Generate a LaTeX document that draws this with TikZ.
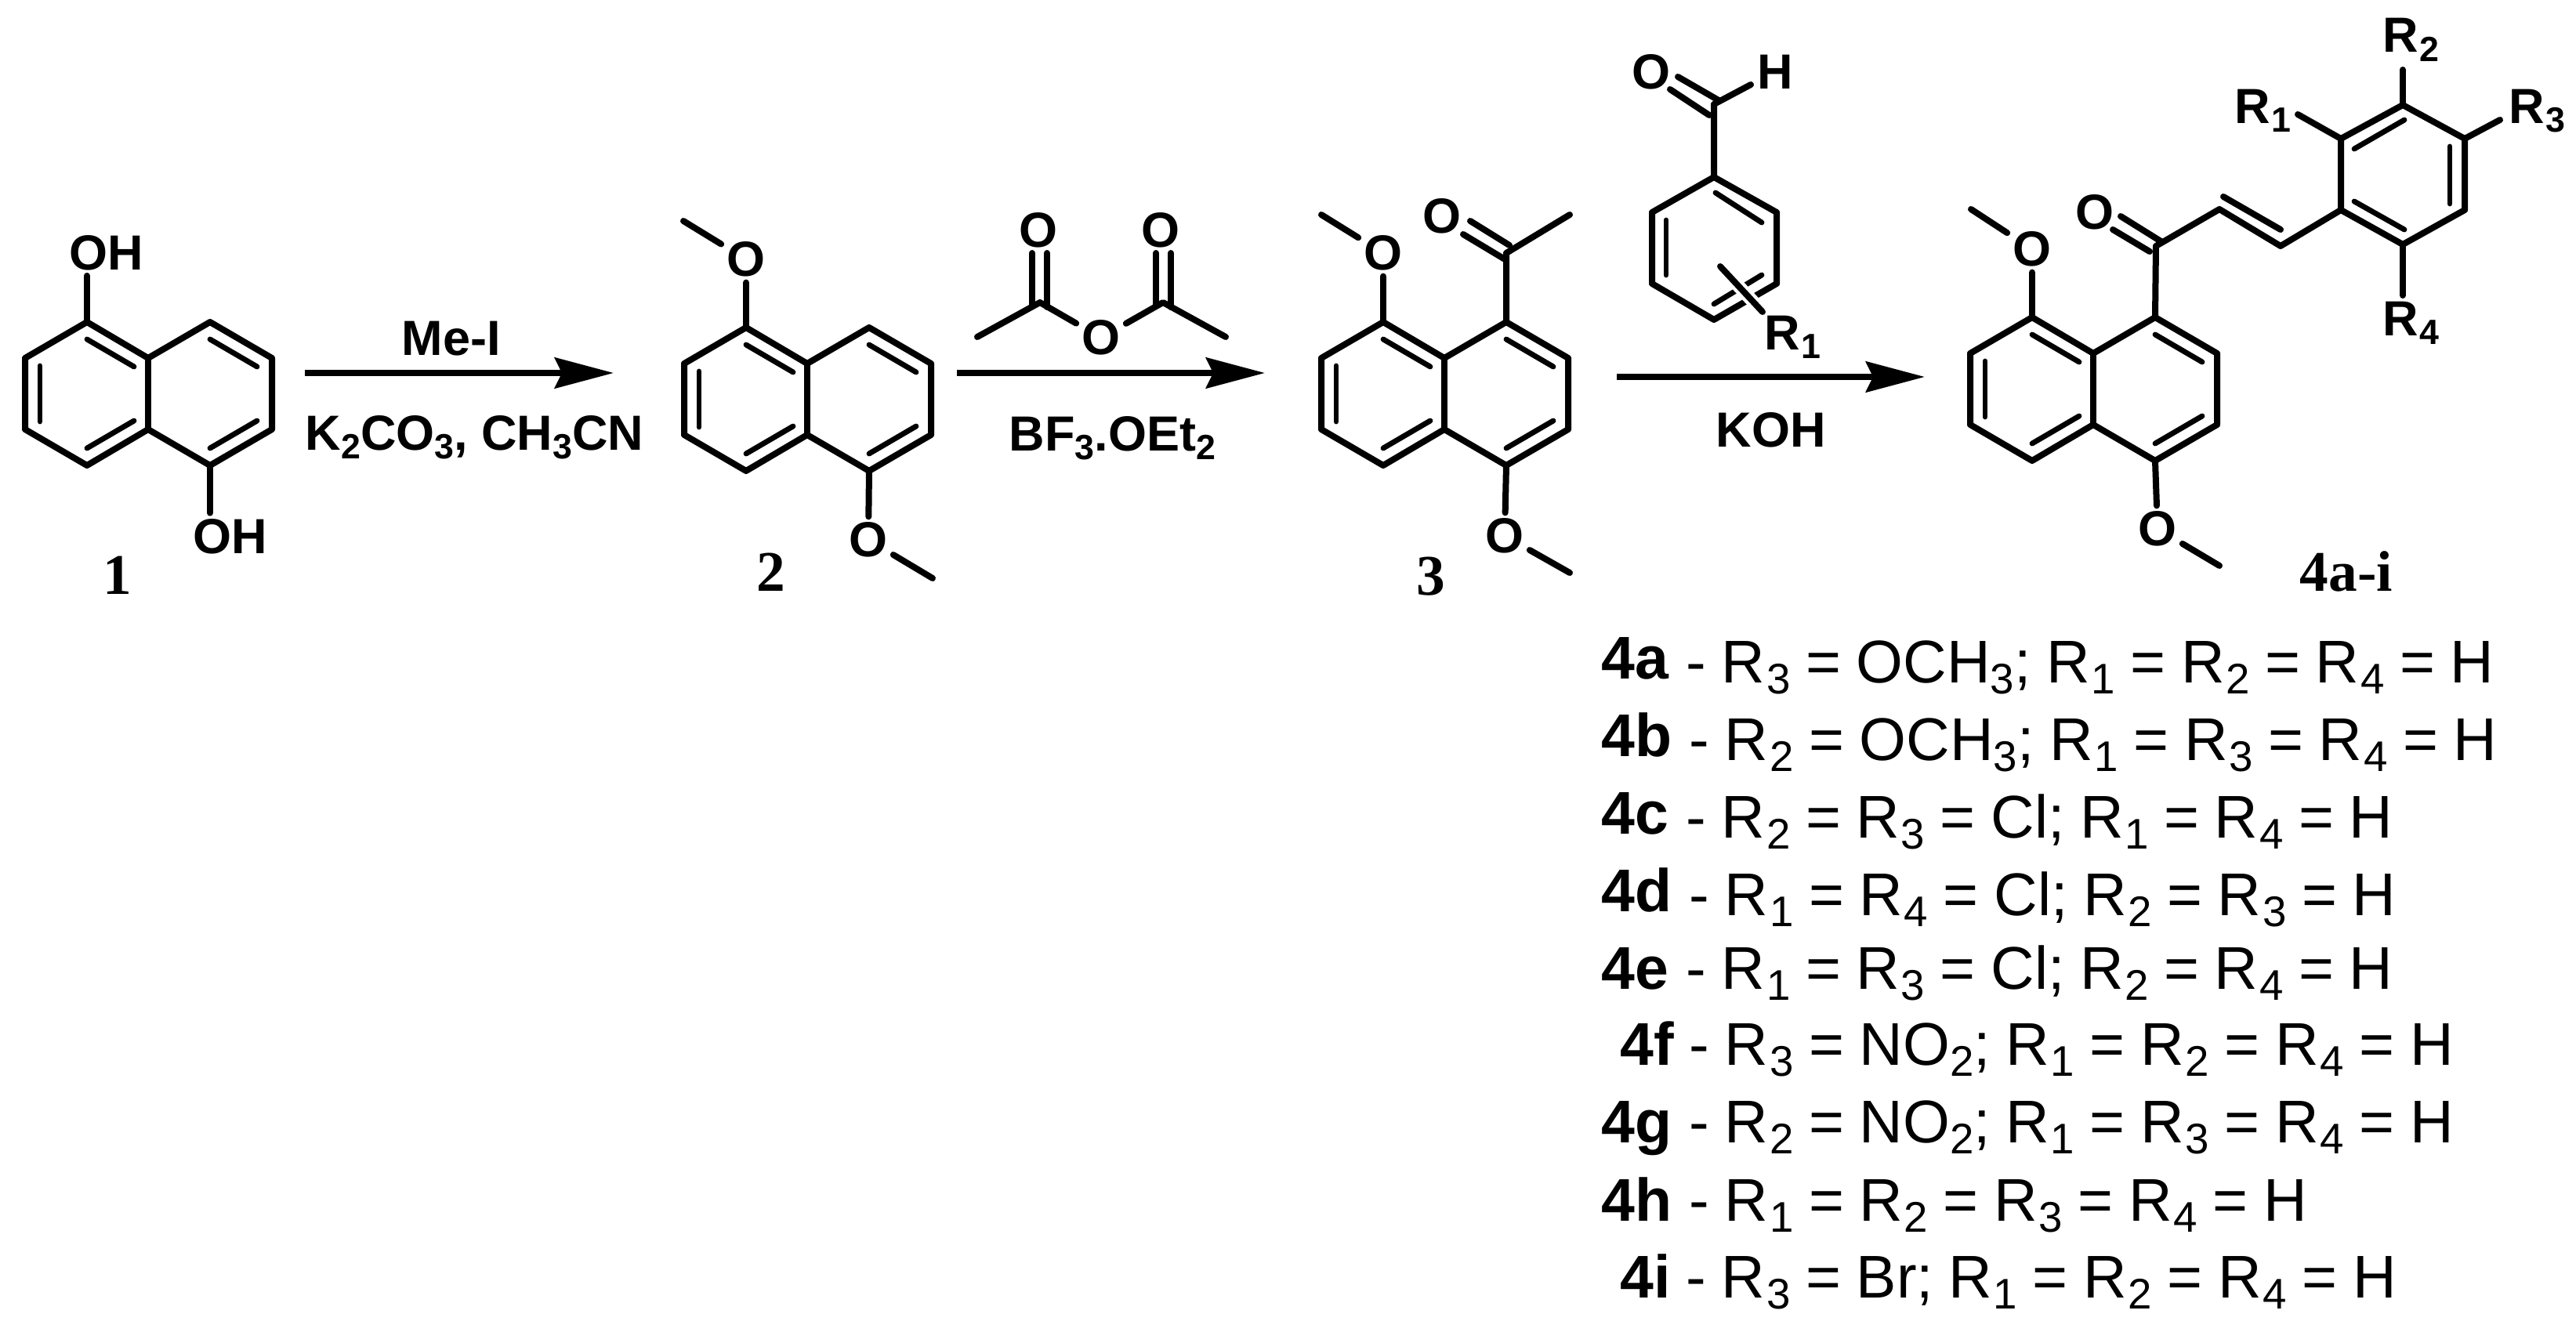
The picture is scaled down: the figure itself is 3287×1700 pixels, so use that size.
\documentclass[tikz,border=0pt]{standalone}
\usepackage{fontspec}
\setmainfont{Liberation Sans}
\newfontfamily\tnr{Liberation Serif}
\usetikzlibrary{arrows.meta}
\newcommand\sbs[1]{\raisebox{-.19em}{\scalebox{.71}{#1}}}
\newcommand\Rr[1]{R\kern.02em\sbs{#1}}
\newcommand\tightsp{\spaceskip=.255em\relax}
\tikzset{
  bond/.style={line width=2.4pt,line cap=round,line join=round},
  inbond/.style={line width=2.05pt,line cap=round},
  halo/.style={line width=5pt,white},
  rxn/.style={line width=2.4pt,-{Stealth[length=22.5pt,width=11.7pt,inset=2.7pt]}},
  atom/.style={inner sep=2pt,font=\fontsize{18.9}{20}\selectfont\bfseries},
  lab/.style={inner sep=0pt,anchor=base west,font=\fontsize{18.9}{20}\selectfont\bfseries},
  cmpd/.style={inner sep=0pt,anchor=base,font=\fontsize{22}{24}\selectfont\tnr\bfseries},
  rowid/.style={inner sep=0pt,anchor=base west,font=\fontsize{23.1}{24}\selectfont\bfseries},
  rowtxt/.style={inner sep=0pt,anchor=base west,font=\fontsize{23.1}{24}\selectfont\tightsp},
}
% naphthalene skeleton: #1 prefix, (#2,#3) upper vertex of the left ring
\newcommand\naph[3]{%
  \coordinate (#1a) at (#2,#3);
  \coordinate (#1b) at ({#2-79},{#3+46});
  \coordinate (#1c) at ({#2-79},{#3+137});
  \coordinate (#1d) at (#2,{#3+183});
  \coordinate (#1e) at ({#2+78},{#3+137});
  \coordinate (#1f) at ({#2+157},{#3+183});
  \coordinate (#1g) at ({#2+236},{#3+137});
  \coordinate (#1h) at ({#2+236},{#3+46});
  \coordinate (#1i) at ({#2+157},#3);
  \coordinate (#1j) at ({#2+78},{#3+46});
  \draw[bond] (#1a)--(#1b)--(#1c)--(#1d)--(#1e)--(#1f)--(#1g)--(#1h)--(#1i)--(#1j)--cycle;
  \draw[bond] (#1j)--(#1e);
  \draw[inbond] ({#2-60},{#3+56})--({#2-60},{#3+127});
  \draw[inbond] (#2,{#3+22})--({#2+60},{#3+57});
  \draw[inbond] (#2,{#3+161})--({#2+60},{#3+126});
  \draw[inbond] ({#2+157},{#3+22})--({#2+217},{#3+57});
  \draw[inbond] ({#2+157},{#3+161})--({#2+217},{#3+126});
}
\begin{document}
\begin{tikzpicture}[x=0.3pt,y=-0.3pt]
\useasboundingbox (0,0) rectangle (3287,1700);

%% compound 1
\naph{ma}{111}{411}
\node[atom,anchor=base west] (ohtop) at (81,344) {OH};
\node[atom,anchor=base west] (ohbot) at (239,706) {OH};
\draw[bond] (maa)--(maa |- ohtop.south);
\draw[bond] (maf)--(maf |- ohbot.north);
\node[cmpd] (n1) at (150,758) {1};

%% arrow 1
\coordinate (a1s) at (389,476);
\coordinate (a1e) at (783,476);
\draw[rxn] (a1s)--(a1e);
\node[lab] (reag) at (512,453) {Me-I};
\node[lab] (k2) at (389,574) {K\sbs{2}CO\sbs{3}, CH\sbs{3}CN};

%% compound 2
\naph{mb}{952}{418}
\node[atom] (bo1) at (952,331) {O};
\node[atom] (bo2) at (1108,689) {O};
\coordinate (bme1) at (872,282);
\coordinate (bme2) at (1190,738);
\draw[bond] (mba)--(bo1);
\draw[bond] (bo1)--(bme1);
\draw[bond] (mbf)--(bo2);
\draw[bond] (bo2)--(bme2);
\node[cmpd] (n2) at (984,754) {2};

%% acetic anhydride
\node[atom] (ao1) at (1325,294) {O};
\node[atom] (ao2) at (1481,294) {O};
\node[atom] (ao3) at (1405,431) {O};
\coordinate (ac1) at (1327,386);
\coordinate (ac2) at (1484,386);
\coordinate (ame1) at (1247,430);
\coordinate (ame2) at (1564,430);
\coordinate (ad1a) at (1317,323); \coordinate (ad1b) at (1317,390);
\coordinate (ad1c) at (1336,323); \coordinate (ad1d) at (1336,392);
\coordinate (ad2a) at (1475,323); \coordinate (ad2b) at (1475,390);
\coordinate (ad2c) at (1494,323); \coordinate (ad2d) at (1494,392);
\draw[bond] (ad1a)--(ad1b);
\draw[bond] (ad1c)--(ad1d);
\draw[bond] (ad2a)--(ad2b);
\draw[bond] (ad2c)--(ad2d);
\draw[bond] (ame1)--(ac1)--(ao3);
\draw[bond] (ame2)--(ac2)--(ao3);

%% arrow 2
\coordinate (a2s) at (1221,476);
\coordinate (a2e) at (1614,476);
\draw[rxn] (a2s)--(a2e);
\node[lab] (bf) at (1287,575) {BF\sbs{3}.OEt\sbs{2}};

%% compound 3
\naph{mc}{1765}{411}
\node[atom] (co1) at (1765,323) {O};
\node[atom] (co2) at (1920,684) {O};
\node[atom] (co3) at (1840,276) {O};
\coordinate (cme1) at (1686,274);
\coordinate (cme2) at (2003,731);
\coordinate (cc) at (1922,323);
\coordinate (cme3) at (2003,274);
\coordinate (cd1a) at (1922,332); \coordinate (cd1b) at (1867,299);
\coordinate (cd2a) at (1926,313); \coordinate (cd2b) at (1876,282);
\draw[bond] (mca)--(co1);
\draw[bond] (co1)--(cme1);
\draw[bond] (mcf)--(co2);
\draw[bond] (co2)--(cme2);
\draw[bond] (mci)--(cc)--(cme3);
\draw[bond] (cd1a)--(cd1b);
\draw[bond] (cd2a)--(cd2b);
\node[cmpd] (n3) at (1826,759) {3};

%% arrow 3
\coordinate (a3s) at (2063,481);
\coordinate (a3e) at (2456,481);
\draw[rxn] (a3s)--(a3e);
\node[lab] (koh) at (2189,570) {KOH};

%% benzaldehyde
\coordinate (da) at (2187,226);
\coordinate (db) at (2108,271);
\coordinate (dc) at (2108,362);
\coordinate (dd) at (2187,408);
\coordinate (de) at (2267,362);
\coordinate (df) at (2267,271);
\draw[bond] (da)--(db)--(dc)--(dd)--(de)--(df)--cycle;
\coordinate (di1a) at (2126,281); \coordinate (di1b) at (2126,351);
\coordinate (di2a) at (2189,246); \coordinate (di2b) at (2248,284);
\coordinate (di3a) at (2187,388); \coordinate (di3b) at (2248,351);
\draw[inbond] (di1a)--(di1b);
\draw[inbond] (di2a)--(di2b);
\draw[inbond] (di3a)--(di3b);
\coordinate (dxa) at (2195,340);
\coordinate (dxb) at (2249,398);
\draw[halo] (dxa)--(dxb);
\draw[bond] (dxa)--(dxb);
\node[lab] (dr) at (2251,446) {\Rr{1}};
\coordinate (dco) at (2187,133);
\node[atom] (do) at (2107,92) {O};
\node[atom,anchor=base west] (dh) at (2235,113) {H};
\coordinate (dhb) at (2234,108);
\draw[bond] (da)--(dco)--(dhb);
\coordinate (dd1a) at (2181,147); \coordinate (dd1b) at (2131,114);
\coordinate (dd2a) at (2193,128); \coordinate (dd2b) at (2141,98);
\draw[bond] (dd1a)--(dd1b);
\draw[bond] (dd2a)--(dd2b);

%% compound 4
\naph{mw}{2593}{405}
\node[atom] (eo1) at (2593,318) {O};
\node[atom] (eo2) at (2753,675) {O};
\node[atom] (eo3) at (2673,271) {O};
\coordinate (eme1) at (2515,267);
\coordinate (eme2) at (2832,722);
\coordinate (ec) at (2751,314);
\coordinate (ev1) at (2832,267);
\coordinate (ev2) at (2910,314);
\draw[bond] (mwa)--(eo1);
\draw[bond] (eo1)--(eme1);
\draw[bond] (mwf)--(eo2);
\draw[bond] (eo2)--(eme2);
\coordinate (ed1a) at (2743,321); \coordinate (ed1b) at (2696,293);
\coordinate (ed2a) at (2759,309); \coordinate (ed2b) at (2706,276);
\draw[bond] (ed1a)--(ed1b);
\draw[bond] (ed2a)--(ed2b);
\coordinate (ed3a) at (2837,251); \coordinate (ed3b) at (2910,293);
\draw[bond] (ed3a)--(ed3b);
% aryl ring
\coordinate (fa) at (2987,268);
\coordinate (fb) at (2987,177);
\coordinate (fc) at (3066,134);
\coordinate (fd) at (3145,177);
\coordinate (fe) at (3145,268);
\coordinate (ff) at (3066,312);
\draw[bond] (fa)--(fb)--(fc)--(fd)--(fe)--(ff)--cycle;
\draw[bond] (mwi)--(ec)--(ev1)--(ev2)--(fa);
\coordinate (fi1a) at (3126,187); \coordinate (fi1b) at (3126,260);
\coordinate (fi2a) at (3004,190); \coordinate (fi2b) at (3068,153);
\coordinate (fi3a) at (3004,257); \coordinate (fi3b) at (3068,293);
\draw[inbond] (fi1a)--(fi1b);
\draw[inbond] (fi2a)--(fi2b);
\draw[inbond] (fi3a)--(fi3b);
\coordinate (r1e) at (2932,146);
\coordinate (r2e) at (3066,89);
\coordinate (r3e) at (3190,153);
\coordinate (r4e) at (3066,377);
\draw[bond] (fb)--(r1e);
\draw[bond] (fc)--(r2e);
\draw[bond] (fd)--(r3e);
\draw[bond] (ff)--(r4e);
\node[lab] (r1) at (2851,157) {\Rr{1}};
\node[lab] (r2) at (3040,67) {\Rr{2}};
\node[lab] (r3) at (3201,157) {\Rr{3}};
\node[lab] (r4) at (3040,428) {\Rr{4}};
\node[cmpd] (n4) at (2994,754) {4a-i};

%% key to the substituents
\node[rowid] (ra) at (2043,866) {4a};
\node[rowid] (rb) at (2043,965) {4b};
\node[rowid] (rc) at (2043,1064) {4c};
\node[rowid] (rd) at (2043,1163) {4d};
\node[rowid] (re) at (2043,1262) {4e};
\node[rowid] (rf) at (2067,1359) {4f};
\node[rowid] (rg) at (2043,1458) {4g};
\node[rowid] (rh) at (2043,1558) {4h};
\node[rowid] (ri) at (2067,1656) {4i};
\node[rowtxt] (ta) at (2151,871) {- \Rr{3} = OCH\sbs{3}; \Rr{1} = \Rr{2} = \Rr{4} = H};
\node[rowtxt] (tb) at (2155,970) {- \Rr{2} = OCH\sbs{3}; \Rr{1} = \Rr{3} = \Rr{4} = H};
\node[rowtxt] (tc) at (2151,1069) {- \Rr{2} = \Rr{3} = Cl; \Rr{1} = \Rr{4} = H};
\node[rowtxt] (td) at (2155,1168) {- \Rr{1} = \Rr{4} = Cl; \Rr{2} = \Rr{3} = H};
\node[rowtxt] (te) at (2151,1262) {- \Rr{1} = \Rr{3} = Cl; \Rr{2} = \Rr{4} = H};
\node[rowtxt] (tf) at (2155,1359) {- \Rr{3} = NO\sbs{2}; \Rr{1} = \Rr{2} = \Rr{4} = H};
\node[rowtxt] (tg) at (2155,1458) {- \Rr{2} = NO\sbs{2}; \Rr{1} = \Rr{3} = \Rr{4} = H};
\node[rowtxt] (th) at (2155,1558) {- \Rr{1} = \Rr{2} = \Rr{3} = \Rr{4} = H};
\node[rowtxt] (ti) at (2151,1656) {- \Rr{3} = Br; \Rr{1} = \Rr{2} = \Rr{4} = H};
\end{tikzpicture}
\end{document}
